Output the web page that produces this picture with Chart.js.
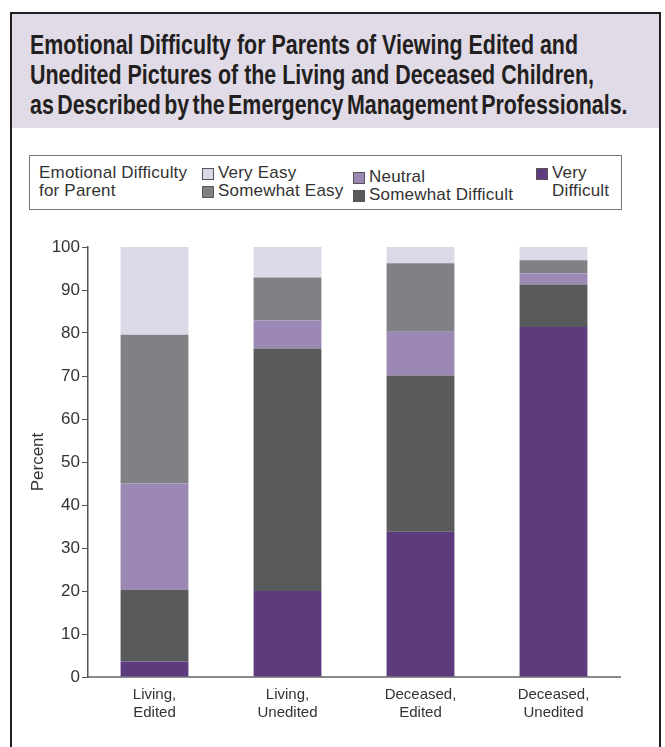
<!DOCTYPE html>
<html>
<head>
<meta charset="utf-8">
<script src="https://cdn.jsdelivr.net/npm/chart.js@4.4.1/dist/chart.umd.min.js"></script>
<style>
  body { margin: 0; width: 665px; height: 747px; overflow: hidden; background: #fff;
         font-family: "Liberation Sans", Arial, sans-serif; color: #333; }
  #frame { position: absolute; left: 10px; top: 12px; width: 647px; height: 760px;
           border: 2px solid #231f20; border-bottom: none; }
  #title { position: absolute; left: 0; top: 0; right: 0; height: 114px; background: #e0dbe6; }
  #titleText { position: absolute; left: 18px; top: 16px; font-family: "Liberation Sans", Arial, sans-serif;
               font-weight: bold; font-size: 27px; line-height: 30px; color: #231f20;
               white-space: nowrap; transform-origin: 0 0; }
  #legend { position: absolute; left: 29px; top: 155px; width: 591px; height: 53px; border: 1px solid #777;
            font-size: 17px; letter-spacing: 0.2px; }
  .lg { position: absolute; white-space: nowrap; line-height: 18px; }
  .sw { position: absolute; width: 10px; height: 10px; border: 1px solid #555; }
  #chart { position: absolute; left: 12px; top: 220px; }
</style>
</head>
<body>
<div id="frame"><div id="title"><div id="titleText"><span id="line1">Emotional Difficulty for Parents of Viewing Edited and</span><br>Unedited Pictures of the Living and Deceased Children,<br><span id="line3">as Described by the Emergency Management Professionals.</span></div></div></div>
<div id="legend"></div>
<canvas id="chart" width="647" height="527"></canvas>
<script>
var categories = [['Living,', 'Edited'], ['Living,', 'Unedited'], ['Deceased,', 'Edited'], ['Deceased,', 'Unedited']];
var seriesNames = ['Very Difficult', 'Somewhat Difficult', 'Neutral', 'Somewhat Easy', 'Very Easy'];
var veryDifficult     = [3.6, 20.0, 33.8, 81.4];
var somewhatDifficult = [16.7, 56.4, 36.3, 9.9];
var neutral           = [24.7, 6.5, 10.2, 2.6];
var somewhatEasy      = [34.6, 10.0, 15.9, 3.0];
var veryEasy          = [20.4, 7.1, 3.8, 3.1];
var yTicks = [0, 10, 20, 30, 40, 50, 60, 70, 80, 90, 100];

var colors = ['#5d3c7d', '#595a5c', '#9c88b4', '#808184', '#dcd8e8'];
var values = [veryDifficult, somewhatDifficult, neutral, somewhatEasy, veryEasy];

// squeeze the title into a condensed look (first line ~548px wide),
// last line is set tighter so it ends ~595px out like the original
var tt = document.getElementById('titleText');
var w1 = document.getElementById('line1').getBoundingClientRect().width;
var k = 548 / w1;
var l3 = document.getElementById('line3');
var w3 = l3.getBoundingClientRect().width;
l3.style.wordSpacing = ((595 / k - w3) / 7) + 'px';
tt.style.transform = 'scaleX(' + k + ')';

var chart = new Chart(document.getElementById('chart').getContext('2d'), {
    type: 'bar',
    data: {
        labels: categories,
        datasets: seriesNames.map(function (name, i) {
            return { label: name, data: values[i], backgroundColor: colors[i],
                     barPercentage: 0.51, categoryPercentage: 1 };
        })
    },
    options: {
        responsive: false,
        animation: false,
        layout: { padding: { top: 27, right: 39, left: 0, bottom: 0 } },
        plugins: { legend: { display: false }, tooltip: { enabled: false } },
        scales: {
            x: {
                stacked: true,
                grid: { display: false },
                border: { display: true, color: '#8a8a8a', width: 2 },
                ticks: { color: '#333', font: { family: 'Liberation Sans', size: 15, lineHeight: 1.25 }, padding: 0, maxRotation: 0, autoSkip: false },
                afterFit: function (s) { s.height = 70; }
            },
            y: {
                stacked: true, min: 0, max: 100,
                afterBuildTicks: function (s) { s.ticks = yTicks.map(function (v) { return { value: v }; }); },
                ticks: { color: '#333', font: { family: 'Liberation Sans', size: 17 }, padding: 2 },
                grid: { drawOnChartArea: false, drawTicks: true, tickLength: 6, color: '#555' },
                border: { display: true, color: '#555', width: 1.5 },
                title: { display: true, text: 'Percent', color: '#333', font: { family: 'Liberation Sans', size: 17 }, padding: { top: 16 } },
                afterFit: function (s) { s.width = 76; }
            }
        }
    }
});

// legend laid out like the original, built from the chart's datasets
var legendSpots = {
    'Very Easy':          { x: 172, y: 8 },
    'Somewhat Easy':      { x: 172, y: 26 },
    'Neutral':            { x: 323, y: 12 },
    'Somewhat Difficult': { x: 323, y: 30 },
    'Very Difficult':     { x: 506, y: 8 }
};
var legend = document.getElementById('legend');
var head = document.createElement('div');
head.className = 'lg';
head.style.left = '9px'; head.style.top = '8px';
head.innerHTML = 'Emotional Difficulty<br>for Parent';
legend.appendChild(head);
chart.data.datasets.forEach(function (ds) {
    var p = legendSpots[ds.label];
    var sw = document.createElement('div');
    sw.className = 'sw';
    sw.style.left = p.x + 'px'; sw.style.top = (p.y + 4) + 'px';
    sw.style.background = ds.backgroundColor;
    legend.appendChild(sw);
    var t = document.createElement('div');
    t.className = 'lg';
    t.style.left = (p.x + 16) + 'px'; t.style.top = p.y + 'px';
    if (ds.label === 'Very Difficult') {
        t.style.textAlign = 'right';
        t.innerHTML = '<div style="text-align:left">Very</div>Difficult';
    } else {
        t.textContent = ds.label;
    }
    legend.appendChild(t);
});
</script>
</body>
</html>
